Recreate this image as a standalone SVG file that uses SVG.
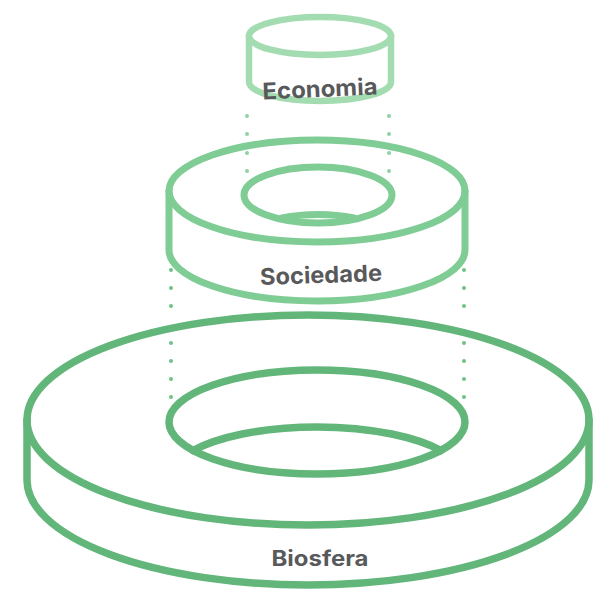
<svg xmlns="http://www.w3.org/2000/svg" width="595" height="592" viewBox="0 0 595 592">
  <style>
    .ring { fill: none; stroke-linecap: round; stroke-linejoin: round; }
    .eco { stroke: #a4dcb1; stroke-width: 6.5; }
    .soc { stroke: #80cc95; stroke-width: 7; }
    .bio { stroke: #62b67a; stroke-width: 7.5; }
    .dot-eco { fill: #8ed3a1; }
    .dot-soc { fill: #6fc286; }
    .label { font-family: Inter, "Liberation Sans", sans-serif; font-weight: 700; fill: #58595b; text-anchor: middle; }
  </style>

  <!-- guide dots between the layers -->
  <g id="connectors">
    <g class="dot-eco">
      <circle cx="247" cy="116" r="2"/><circle cx="247" cy="134" r="2"/><circle cx="247" cy="153" r="2"/><circle cx="247" cy="171" r="2"/>
      <circle cx="389" cy="116" r="2"/><circle cx="389" cy="134" r="2"/><circle cx="389" cy="153" r="2"/><circle cx="389" cy="171" r="2"/>
    </g>
    <g class="dot-soc">
      <circle cx="171" cy="270" r="2"/><circle cx="171" cy="288" r="2"/><circle cx="171" cy="306" r="2"/><circle cx="171" cy="343" r="2"/><circle cx="171" cy="361" r="2"/><circle cx="171" cy="379" r="2"/><circle cx="171" cy="397" r="2"/>
      <circle cx="464" cy="270" r="2"/><circle cx="464" cy="288" r="2"/><circle cx="464" cy="306" r="2"/><circle cx="464" cy="343" r="2"/><circle cx="464" cy="361" r="2"/><circle cx="464" cy="379" r="2"/><circle cx="464" cy="397" r="2"/>
    </g>
  </g>

  <!-- Biosfera: wide ring -->
  <g id="biosfera">
    <ellipse class="ring bio" cx="308" cy="420" rx="281" ry="105"/>
    <path class="ring bio" d="M27 420 V480 A281 105 0 0 0 589 480 V420"/>
    <ellipse class="ring bio" cx="317" cy="422" rx="148" ry="52"/>
    <path class="ring bio" d="M193 450.5 A148 52 0 0 1 441 450.5"/>
    <text class="label" x="320" y="566" font-size="21" textLength="97" lengthAdjust="spacingAndGlyphs">Biosfera</text>
  </g>

  <!-- Sociedade: middle ring -->
  <g id="sociedade">
    <ellipse class="ring soc" cx="317" cy="191" rx="148" ry="51"/>
    <path class="ring soc" d="M169 191 V250 A148 51 0 0 0 465 250 V191"/>
    <ellipse class="ring soc" cx="318" cy="195" rx="74" ry="28"/>
    <path class="ring soc" d="M282 218 A74 28 0 0 1 354 218"/>
    <text class="label" x="321" y="283" font-size="23" textLength="122" lengthAdjust="spacingAndGlyphs" transform="rotate(-2 321 276)">Sociedade</text>
  </g>

  <!-- Economia: small cylinder on top -->
  <g id="economia">
    <ellipse class="ring eco" cx="320" cy="36" rx="71" ry="19"/>
    <path class="ring eco" d="M249 36 V82 A71 19 0 0 0 391 82 V36"/>
    <text class="label" x="320" y="97" font-size="23" textLength="115" lengthAdjust="spacingAndGlyphs" transform="rotate(-2.5 320 90)">Economia</text>
  </g>
</svg>
